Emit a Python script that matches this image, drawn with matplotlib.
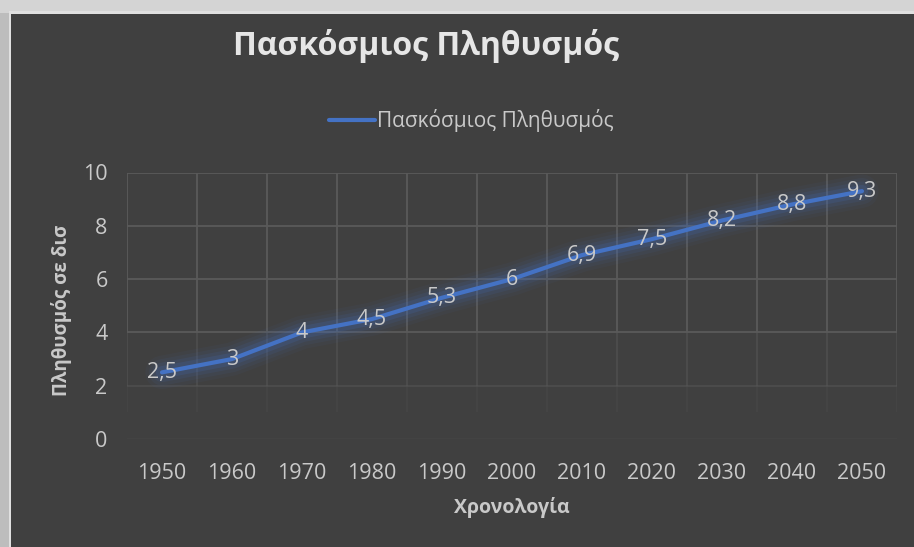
import matplotlib
matplotlib.use("Agg")
import matplotlib.pyplot as plt
from matplotlib.patches import Rectangle

years = ["1950", "1960", "1970", "1980", "1990", "2000", "2010", "2020", "2030", "2040", "2050"]
population = [2.5, 3, 4, 4.5, 5.3, 6, 6.9, 7.5, 8.2, 8.8, 9.3]
labels = ["2,5", "3", "4", "4,5", "5,3", "6", "6,9", "7,5", "8,2", "8,8", "9,3"]
yticks = [0, 2, 4, 6, 8, 10]

title = "Πασκόσμιος Πληθυσμός"
series_name = "Πασκόσμιος Πληθυσμός"
xlabel = "Χρονολογία"
ylabel = "Πληθυσμός σε δισ"

BG = "#404040"
TXT = "#c9c9c9"
LINE = "#4472c4"
GRID = "#5a5a5a"
FONT = ["Open Sans", "DejaVu Sans"]

W, H = 914, 547
fig = plt.figure(figsize=(W / 100, H / 100), dpi=100)
fig.patch.set_facecolor("#d4d4d4")
# outer light frame bands
fig.patches.append(Rectangle((0, 0), 1, 1 - 13 / H, transform=fig.transFigure,
                             facecolor="#bdbdbd", edgecolor="none", zorder=-2))
fig.patches.append(Rectangle((9 / W, 0), 1, 1 - 11 / H, transform=fig.transFigure,
                             facecolor="#e0e0e0", edgecolor="none", zorder=-2))
fig.patches.append(Rectangle((11 / W, 0), 1, 1 - 14 / H, transform=fig.transFigure,
                             facecolor=BG, edgecolor="none", zorder=-1))

left, right = 127 / W, 897 / W
bottom, top = 1 - 439 / H, 1 - 172.5 / H
ax = fig.add_axes([left, bottom, right - left, top - bottom])
ax.set_zorder(2)
ax.set_facecolor(BG)
ax.patch.set_alpha(0)

x = list(range(len(years)))
ax.set_xlim(-0.5, len(years) - 0.5)
ax.set_ylim(0, 10)

# gridlines (fading toward the bottom)
for yv in yticks:
    a = 1.0 if yv >= 4 else (0.5 if yv == 2 else 0.15)
    ax.axhline(yv, color=GRID, lw=1.3, alpha=a, zorder=1)
for xv in [i - 0.5 for i in range(len(years) + 1)]:
    ax.plot([xv, xv], [4, 10], color=GRID, lw=1.3, zorder=1, solid_capstyle="butt")
    ax.plot([xv, xv], [2, 4], color=GRID, lw=1.3, alpha=0.5, zorder=1, solid_capstyle="butt")
    ax.plot([xv, xv], [1, 2], color=GRID, lw=1.3, alpha=0.2, zorder=1, solid_capstyle="butt")

for s in ax.spines.values():
    s.set_visible(False)

# glow
for lw, al in [(24, 0.05), (19, 0.07), (14, 0.10), (9, 0.16)]:
    ax.plot(x, population, color=LINE, lw=lw, alpha=al, solid_capstyle="round",
            solid_joinstyle="round", zorder=2)
ax.plot(x, population, color=LINE, lw=3, solid_capstyle="round",
        solid_joinstyle="round", zorder=3, label=series_name)

for xi, yi, lab in zip(x, population, labels):
    ax.text(xi, yi, lab, ha="center", va="center", color=TXT, fontsize=15.5,
            family=FONT, zorder=4)

ax.set_xticks(x)
ax.set_xticklabels(years, family=FONT, fontsize=15.5, color=TXT)
ax.set_yticks(yticks)
ax.set_yticklabels([str(v) for v in yticks], family=FONT, fontsize=15.5, color=TXT)
ax.tick_params(length=0, pad=14)
ax.tick_params(axis="x", pad=17)

fig.text(512 / W, 1 - 508 / H, xlabel, ha="center", va="center", color=TXT,
         fontsize=14, fontweight="bold", family=FONT)
fig.text(62 / W, 1 - 310 / H, ylabel, ha="center", va="center", color=TXT,
         fontsize=13.5, fontweight="bold", family=FONT, rotation=90)
fig.text(426 / W, 1 - 46 / H, title, ha="center", va="center", color="#e6e6e6",
         fontsize=23, fontweight="bold", family=FONT)

leg = fig.legend(loc="center", bbox_to_anchor=(471 / W, 1 - 121 / H), frameon=False,
                 prop={"family": FONT, "size": 15}, handlelength=2.2, handletextpad=0.1)
for t in leg.get_texts():
    t.set_color(TXT)

fig.savefig("out.png", dpi=100, facecolor=fig.get_facecolor())
